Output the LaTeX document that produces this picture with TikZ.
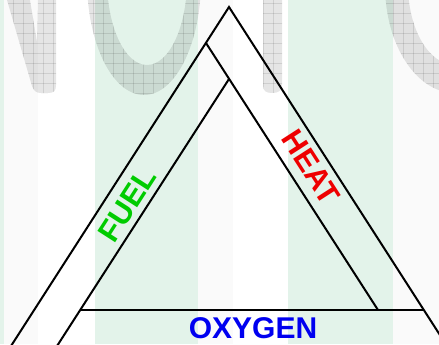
\documentclass[tikz,border=0pt]{standalone}
\usepackage{fontspec}
\setmainfont{Liberation Sans}
\usetikzlibrary{positioning}

\definecolor{stripegreen}{RGB}{227,243,234}
\definecolor{stripegrey}{RGB}{250,250,250}
\definecolor{fuelgreen}{RGB}{0,204,0}
\definecolor{heatred}{RGB}{238,0,0}
\definecolor{oxyblue}{RGB}{0,0,240}

\begin{document}
\begin{tikzpicture}[x=0.75pt,y=-0.75pt,
  bar/.style={line width=1.5pt,line join=miter,line cap=butt},
  gridline/.style={black,opacity=0.1,line width=0.5pt},
  word/.style={inner sep=0pt,font=\bfseries\fontsize{23}{26}\selectfont}]
\useasboundingbox (0,0) rectangle (439,344);
\clip (0,0) rectangle (439,344);
% background stripes
\fill[stripegreen] (0,0) rectangle (4,344);
\fill[stripegrey] (4,0) rectangle (38,344);
\fill[stripegreen] (95,0) rectangle (198,344);
\fill[stripegrey] (198,0) rectangle (233,344);
\fill[stripegreen] (288,0) rectangle (393,344);
\fill[stripegrey] (393,0) rectangle (439,344);
% big gridded letters (bottoms only)
\begin{scope}[even odd rule]
\clip
  (7,0) -- (30,0) -- (37,42) -- (38,0) -- (56,0) -- (56,85)
    .. controls (56,91) and (54,93) .. (48,93) -- (41,93)
    .. controls (36,93) and (34,91) .. (32,86) -- cycle
  (144,-20) ellipse [x radius=57, y radius=115]
  (147,-20) ellipse [x radius=40, y radius=85]
  (263,0) -- (263,85) .. controls (263,91) and (266,93) .. (272,93)
    .. controls (278,93) and (282,91) .. (282,85) -- (282,0) -- cycle
  (455,-15) ellipse [x radius=70, y radius=108]
  (455,-15) ellipse [x radius=47, y radius=80];
\fill[black,opacity=0.1] (0,0) rectangle (439,120);
\foreach \gx in {3,13,...,443} {\draw[gridline] (\gx,0) -- (\gx,120);}
\foreach \gy in {3,13,...,113} {\draw[gridline] (0,\gy) -- (439,\gy);}
\end{scope}
% fire triangle bands
\coordinate (apex) at (229,7);
\coordinate (fuelout) at (2,360);
\coordinate (heatout) at (456,360);
\coordinate (heattop) at (206,43);
\coordinate (heatend) at (378,310);
\coordinate (innertop) at (229,79);
\coordinate (fuelin) at (48,360);
\coordinate (oxyl) at (80,310);
\coordinate (oxyr) at (424,310);
\draw[bar] (fuelout) -- (apex) -- (heatout);
\draw[bar] (heattop) -- (heatend);
\draw[bar] (innertop) -- (fuelin);
\draw[bar] (oxyl) -- (oxyr);
% labels
\node[word,text=fuelgreen,rotate=57.2] (fuel) at (127,205) {FUEL};
\node[word,text=heatred,rotate=-57.2] (heat) at (311,167) {HEAT};
\node[word,text=oxyblue,font=\bfseries\fontsize{22.5}{26}\selectfont] (oxygen) at (253,328) {OXYGEN};
\end{tikzpicture}
\end{document}
